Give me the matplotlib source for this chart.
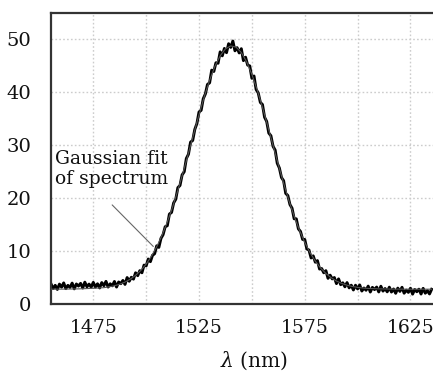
import matplotlib
matplotlib.use("Agg")
import matplotlib.pyplot as plt
import numpy as np

plt.rcParams["mathtext.fontset"] = "dejavuserif"

# Measured spectrum (1 nm steps from 1455 nm)
spec_start = 1455
spectrum = [
    3.80, 2.92, 3.53, 2.75, 3.76, 3.18, 3.99, 2.90, 3.52, 3.13,
    3.95, 2.86, 3.78, 3.39, 3.90, 3.02, 4.13, 3.25, 3.76, 3.18,
    4.09, 3.20, 3.82, 3.03, 4.05, 3.46, 4.28, 3.20, 3.82, 3.44,
    4.26, 3.20, 4.16, 3.84, 4.45, 3.70, 5.00, 4.30, 5.05, 4.70,
    5.90, 5.35, 6.30, 5.90, 7.35, 7.20, 8.50, 8.00, 9.20, 9.50,
    11.0, 10.7, 12.4, 13.1, 14.6, 14.8, 17.0, 17.3, 19.1, 19.8,
    22.0, 22.4, 24.4, 25.0, 27.5, 28.3, 30.6, 30.9, 33.0, 34.1,
    36.3, 36.6, 38.8, 39.7, 41.5, 41.8, 44.2, 43.95, 45.6, 45.5,
    47.65, 46.9, 48.3, 47.5, 49.2, 48.5, 49.7, 47.85, 48.45, 47.45,
    48.25, 46.0, 46.65, 45.15, 45.0, 42.65, 43.1, 40.55, 39.9, 38.1,
    37.7, 35.3, 34.5, 32.3, 31.8, 29.8, 29.1, 26.6, 25.7, 23.9,
    23.3, 20.9, 20.5, 18.8, 18.1, 16.1, 16.1, 14.2, 13.7, 12.2,
    12.2, 10.4, 10.2, 8.7, 9.1, 7.9, 8.2, 6.6, 6.7, 5.9,
    6.3, 4.85, 5.45, 4.75, 5.0, 3.85, 4.75, 3.65, 4.0, 3.25,
    4.05, 3.05, 3.55, 2.65, 3.55, 2.85, 3.6, 2.45, 3.02, 2.6,
    3.38, 2.26, 3.14, 2.72, 3.2, 2.28, 3.36, 2.44, 2.92, 2.30,
    3.18, 2.26, 2.84, 2.02, 3.0, 2.38, 3.16, 2.04, 2.62, 2.2,
    2.98, 1.86, 2.74, 2.32, 2.8, 1.88, 2.96, 2.04, 2.52, 1.9,
    2.78,
]
spec_wl = [spec_start + i for i in range(len(spectrum))]

# Gaussian fit curve (2.5 nm steps)
fit_wl = [1455.0, 1460.0, 1465.0, 1470.0, 1475.0, 1477.5,
          1480.0, 1482.5, 1485.0, 1487.5, 1490.0, 1492.5, 1495.0, 1497.5,
          1500.0, 1502.5, 1505.0, 1507.5, 1510.0, 1512.5, 1515.0, 1517.5,
          1520.0, 1522.5, 1525.0, 1527.5, 1530.0, 1532.5, 1535.0, 1537.5,
          1540.0, 1542.5, 1545.0, 1547.5, 1550.0, 1552.5, 1555.0, 1557.5,
          1560.0, 1562.5, 1565.0, 1567.5, 1570.0, 1572.5, 1575.0, 1577.5,
          1580.0, 1582.5, 1585.0, 1587.5, 1590.0, 1592.5, 1595.0, 1597.5,
          1600.0, 1602.5, 1605.0, 1610.0, 1615.0, 1620.0, 1625.0, 1635.0]
fit_val = [2.80, 2.81, 2.83, 2.88, 2.97, 3.02,
           3.09, 3.24, 3.45, 3.74, 4.14, 4.69, 5.42, 6.35,
           7.54, 9.03, 10.83, 12.98, 15.49, 18.33, 21.49, 24.91,
           28.50, 32.17, 35.78, 39.20, 42.29, 44.90, 46.91, 48.23,
           48.78, 48.55, 47.53, 45.78, 43.40, 40.48, 37.18, 33.62,
           29.97, 26.33, 22.83, 19.56, 16.58, 13.94, 11.65, 9.71,
           8.10, 6.80, 5.76, 4.96, 4.34, 3.89, 3.55, 3.31,
           3.14, 3.02, 2.94, 2.86, 2.82, 2.81, 2.80, 2.80]

major_ticks = [1475, 1525, 1575, 1625]
minor_ticks = [1500, 1550, 1600]
y_ticks = [0, 10, 20, 30, 40, 50]

W, H = 433, 374
fig = plt.figure(figsize=(W / 100, H / 100), dpi=100)
left_px, right_px, top_px, bot_px = 51, 457, 13, 304
ax = fig.add_axes([left_px / W, (H - bot_px) / H,
                   (right_px - left_px) / W, (bot_px - top_px) / H])

font = "DejaVu Serif"

ax.plot(fit_wl, fit_val, color="#555555", lw=0.8, zorder=3)
ax.plot(spec_wl, spectrum, color="black", lw=2.1, zorder=2)

ax.set_xlim(1455, 1647)
ax.set_ylim(0, 55)
ax.set_xticks(major_ticks)
ax.set_xticks(minor_ticks, minor=True)
ax.set_yticks(y_ticks)
ax.grid(True, which="both", color="#cccccc", ls=(0, (1.2, 1.6)), lw=1.0)
ax.set_axisbelow(True)
ax.tick_params(which="both", length=0)
ax.tick_params(axis="x", pad=11, labelsize=13.5)
ax.tick_params(axis="y", pad=14, labelsize=14)
for lbl in ax.get_xticklabels() + ax.get_yticklabels():
    lbl.set_fontfamily(font)
    lbl.set_color("#111111")

for s in ["left", "bottom", "top"]:
    ax.spines[s].set_color("#333333")
    ax.spines[s].set_linewidth(1.6)
ax.spines["right"].set_visible(False)

ax.set_xlabel(r"$\lambda$ (nm)", fontsize=14.5, family=font, labelpad=9,
              color="#111111")

ax.text(1457, 29.2, "Gaussian fit\nof spectrum", fontsize=13.5, family=font,
        ha="left", va="top", linespacing=1.2, zorder=4, color="#111111")
ax.annotate("", xy=(1504.3, 10.5), xytext=(1483, 19.1),
            arrowprops=dict(arrowstyle="-", color="#666666", lw=0.8))

fig.savefig("out.png", dpi=100)
